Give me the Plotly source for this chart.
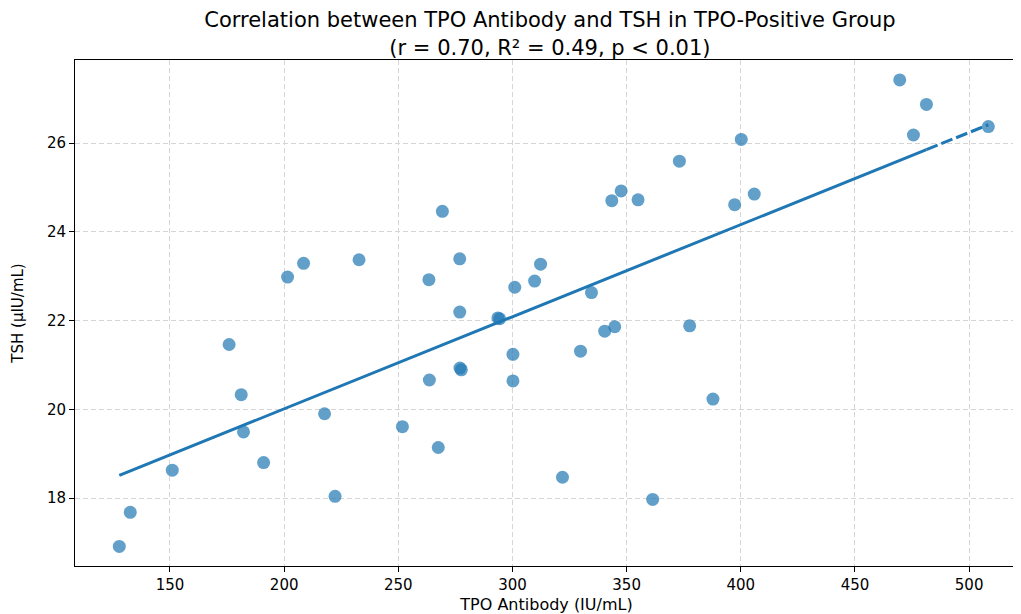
import numpy as np
import plotly.graph_objects as go

tpo_antibody = [127.8, 132.6, 151.0, 175.9, 181.2, 182.2, 191.0, 201.5, 208.5, 217.7,
                222.3, 232.8, 251.8, 263.4, 263.6, 267.5, 269.3, 276.9, 276.9, 277.0,
                277.6, 293.6, 294.4, 300.2, 300.2, 301.0, 309.7, 312.3, 321.9, 329.8,
                334.6, 340.4, 343.5, 344.8, 347.6, 355.0, 361.4, 373.1, 377.6, 387.8,
                397.3, 400.2, 405.9, 469.6, 475.6, 481.3, 508.4]
tsh = [16.91, 17.68, 18.63, 21.46, 20.33, 19.49, 18.80, 22.98, 23.29, 19.90,
       18.04, 23.37, 19.61, 22.92, 20.66, 19.14, 24.46, 23.39, 22.19, 20.93,
       20.89, 22.06, 22.04, 21.24, 20.64, 22.75, 22.89, 23.27, 18.47, 21.31,
       22.63, 21.76, 24.70, 21.86, 24.92, 24.72, 17.97, 25.59, 21.88, 20.23,
       24.61, 26.08, 24.85, 27.42, 26.18, 26.87, 26.37]

x_ticks = [150, 200, 250, 300, 350, 400, 450, 500]
y_ticks = [18, 20, 22, 24, 26]

title_text = "Correlation between TPO Antibody and TSH in TPO-Positive Group<br>(r = 0.70, R² = 0.49, p < 0.01)"

x_arr = np.array(tpo_antibody)
y_arr = np.array(tsh)
slope, intercept = np.polyfit(x_arr, y_arr, 1)
xs_sorted = np.sort(x_arr)
solid_x = np.array([xs_sorted[0], xs_sorted[-2]])
dash_x = np.array([xs_sorted[-2], xs_sorted[-1]])

blue = "#1f77b4"
font_family = "DejaVu Sans, sans-serif"

fig = go.Figure()
fig.add_trace(go.Scatter(
    x=tpo_antibody, y=tsh, mode="markers",
    marker=dict(color=blue, size=13, opacity=0.7, line=dict(width=0)),
    showlegend=False,
))
fig.add_trace(go.Scatter(
    x=solid_x, y=slope * solid_x + intercept, mode="lines",
    line=dict(color=blue, width=3),
    showlegend=False,
))
fig.add_trace(go.Scatter(
    x=dash_x, y=slope * dash_x + intercept, mode="lines",
    line=dict(color=blue, width=3, dash="12px,4px"),
    showlegend=False,
))

axis_common = dict(
    showline=True, linecolor="black", linewidth=1, mirror=True,
    ticks="outside", ticklen=5, tickcolor="black",
    showgrid=True, gridcolor="#d5d5d5", griddash="5px,3px", gridwidth=1,
    zeroline=False, automargin=False,
    tickfont=dict(family=font_family, size=15, color="black"),
)

# the page adds an 8px body margin, so the figure is 8px smaller and shifted
fig.update_layout(
    width=1013, height=606,
    margin=dict(l=67, r=3, t=52, b=48),
    paper_bgcolor="white", plot_bgcolor="white",
    font=dict(family=font_family, color="black"),
    title=dict(text=title_text, x=0.535, xanchor="center",
               yref="container", y=0.968, yanchor="top",
               font=dict(family=font_family, size=21, color="black")),
    xaxis=dict(range=[108.4, 521.4], tickvals=x_ticks,
               title=dict(text="TPO Antibody (IU/mL)", standoff=6,
                          font=dict(family=font_family, size=16)),
               **axis_common),
    yaxis=dict(range=[16.47, 27.87], tickvals=y_ticks,
               title=dict(text="TSH (µIU/mL)", standoff=19,
                          font=dict(family=font_family, size=15)),
               **axis_common),
)

fig.write_html("out.html")
